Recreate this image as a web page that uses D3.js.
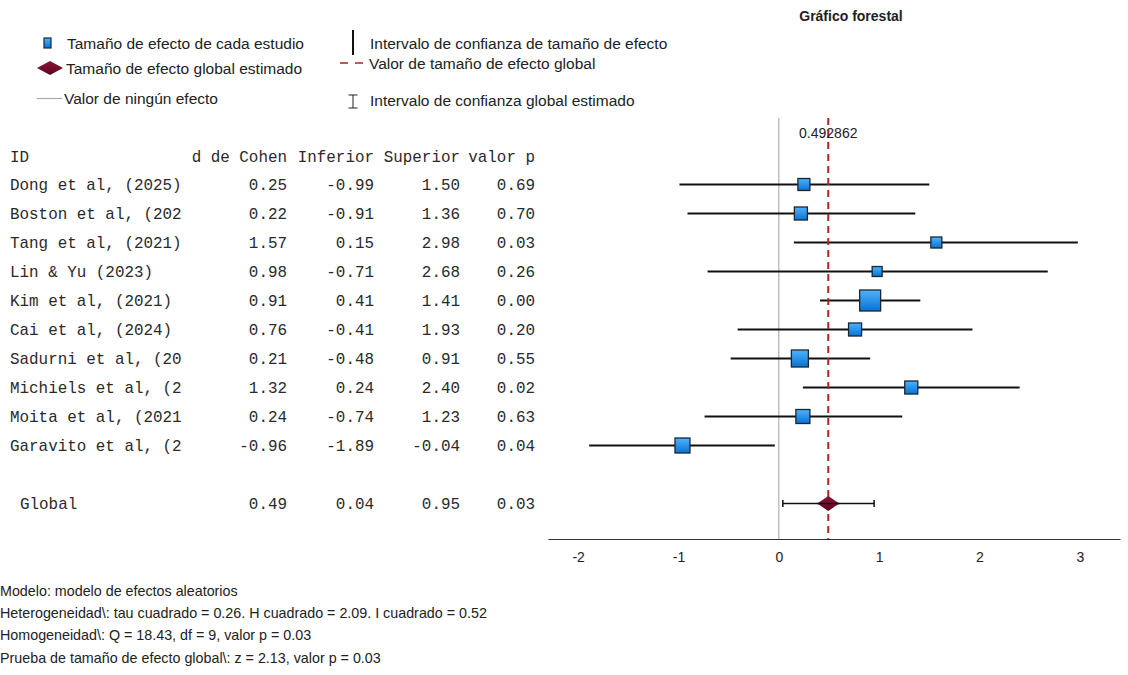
<!DOCTYPE html>
<html lang="es">
<head>
    <meta charset="UTF-8">
    <title>Gráfico forestal</title>
    <script src="https://d3js.org/d3.v7.min.js"></script>
    <style>
        body { margin: 0; background: #fff; }
        svg { display: block; }
        .sans { font-family: "Liberation Sans", Arial, sans-serif; fill: #222; }
        .mono { font-family: "Liberation Mono", "Courier New", monospace; font-size: 15.9px; fill: #2a2a2a; }
    </style>
</head>
<body>
<svg id="chart" width="1128" height="675"></svg>
<script>
    const studies = ["Dong et al, (2025)", "Boston et al, (202", "Tang et al, (2021)", "Lin & Yu (2023)",
        "Kim et al, (2021)", "Cai et al, (2024)", "Sadurni et al, (20", "Michiels et al, (2",
        "Moita et al, (2021", "Garavito et al, (2"];
    const cohenD = [0.25, 0.22, 1.57, 0.98, 0.91, 0.76, 0.21, 1.32, 0.24, -0.96];
    const lower = [-0.99, -0.91, 0.15, -0.71, 0.41, -0.41, -0.48, 0.24, -0.74, -1.89];
    const upper = [1.50, 1.36, 2.98, 2.68, 1.41, 1.93, 0.91, 2.40, 1.23, -0.04];
    const pValues = [0.69, 0.70, 0.03, 0.26, 0.00, 0.20, 0.55, 0.02, 0.63, 0.04];
    // relative weights
    const weights = [7.1, 8.4, 6.0, 4.9, 21.8, 8.4, 14.3, 8.4, 9.7, 11.1];

    const globalEffect = 0.492862;
    const globalLower = 0.04;
    const globalUpper = 0.95;
    const globalP = 0.03;

    const xTicks = [-2, -1, 0, 1, 2, 3];
    const headers = ["d de Cohen", "Inferior", "Superior", "valor p"];
    const footnotes = [
        "Modelo: modelo de efectos aleatorios",
        "Heterogeneidad\\: tau cuadrado = 0.26. H cuadrado = 2.09. I cuadrado = 0.52",
        "Homogeneidad\\: Q = 18.43, df = 9, valor p = 0.03",
        "Prueba de tamaño de efecto global\\: z = 2.13, valor p = 0.03"
    ];

    const svg = d3.select("#chart");

    const defs = svg.append("defs");
    const grad = defs.append("linearGradient").attr("id", "sq").attr("x1", 0).attr("y1", 0).attr("x2", 0).attr("y2", 1);
    grad.append("stop").attr("offset", "0%").attr("stop-color", "#4db3ff");
    grad.append("stop").attr("offset", "100%").attr("stop-color", "#0a72d1");
    const dgrad = defs.append("linearGradient").attr("id", "dm").attr("x1", 0).attr("y1", 0).attr("x2", 0).attr("y2", 1);
    dgrad.append("stop").attr("offset", "0%").attr("stop-color", "#8a1535");
    dgrad.append("stop").attr("offset", "100%").attr("stop-color", "#5a0620");

    // scales
    const x = d3.scaleLinear().domain([-2.3, 3.4]).range([548, 1120]);
    const y = d3.scaleBand().domain(studies.concat(["", "Global"])).range([170, 518]);
    const yc = d => y(d) + y.bandwidth() / 2;
    const size = d3.scaleSqrt().domain([0, d3.max(weights)]).range([0, 21]);

    const plotTop = 118, axisY = 539;

    // title
    svg.append("text").attr("class", "sans")
        .attr("x", 851).attr("y", 21)
        .attr("text-anchor", "middle")
        .style("font-size", "14px").style("font-weight", "bold")
        .text("Gráfico forestal");

    // legend
    const legend = svg.append("g").attr("class", "sans").style("font-size", "15.5px");
    legend.append("rect").attr("x", 44).attr("y", 38).attr("width", 7).attr("height", 10)
        .attr("fill", "url(#sq)").attr("stroke", "#1b2633").attr("stroke-width", 1.2);
    legend.append("path").attr("d", "M37,68L50,61L63,68L50,75Z").attr("fill", "url(#dm)");
    legend.append("line").attr("x1", 37).attr("x2", 62).attr("y1", 98.5).attr("y2", 98.5)
        .attr("stroke", "#aaa").attr("stroke-width", 1.2);
    legend.append("line").attr("x1", 353).attr("x2", 353).attr("y1", 30).attr("y2", 55)
        .attr("stroke", "#111").attr("stroke-width", 2);
    legend.append("line").attr("x1", 340).attr("x2", 363).attr("y1", 63).attr("y2", 63)
        .attr("stroke", "#b22222").attr("stroke-width", 1.5).attr("stroke-dasharray", "8,7");
    legend.append("path").attr("d", "M348.5,95H357.5M353,95V108M348.5,108H357.5")
        .attr("stroke", "#222").attr("stroke-width", 1).attr("fill", "none");

    const legendText = [
        { x: 67, y: 49, t: "Tamaño de efecto de cada estudio" },
        { x: 66, y: 74, t: "Tamaño de efecto global estimado" },
        { x: 64, y: 104, t: "Valor de ningún efecto" },
        { x: 370, y: 49, t: "Intervalo de confianza de tamaño de efecto" },
        { x: 369, y: 69, t: "Valor de tamaño de efecto global" },
        { x: 370, y: 106, t: "Intervalo de confianza global estimado" }
    ];
    legend.selectAll("text.lg").data(legendText).join("text")
        .attr("class", "lg")
        .attr("x", d => d.x).attr("y", d => d.y)
        .text(d => d.t);

    // table
    const colRight = [287, 374, 460, 535];
    svg.append("text").attr("class", "mono").attr("x", 10).attr("y", 162).text("ID");
    headers.forEach((h, i) => {
        svg.append("text").attr("class", "mono").attr("x", colRight[i]).attr("y", 162)
            .attr("text-anchor", "end").text(h);
    });

    const fmt = d3.format(".2f");
    const fmtN = v => fmt(v).replace("−", "-");
    const rows = svg.append("g");
    studies.forEach((s, i) => {
        const cy = yc(s) + 5;
        rows.append("text").attr("class", "mono").attr("x", 10).attr("y", cy).text(s);
        [cohenD[i], lower[i], upper[i], pValues[i]].forEach((v, j) => {
            rows.append("text").attr("class", "mono").attr("x", colRight[j]).attr("y", cy)
                .attr("text-anchor", "end").text(fmtN(v));
        });
    });
    const gy = yc("Global") + 5;
    rows.append("text").attr("class", "mono").attr("x", 20).attr("y", gy).text("Global");
    [globalEffect, globalLower, globalUpper, globalP].forEach((v, j) => {
        rows.append("text").attr("class", "mono").attr("x", colRight[j]).attr("y", gy)
            .attr("text-anchor", "end").text(fmtN(v));
    });

    // no-effect line
    svg.append("line").attr("x1", x(0)).attr("x2", x(0)).attr("y1", plotTop).attr("y2", axisY)
        .attr("stroke", "#b0b0b0").attr("stroke-width", 1.2);

    // CI lines
    svg.append("g").selectAll("line").data(studies).join("line")
        .attr("x1", (d, i) => x(lower[i])).attr("x2", (d, i) => x(upper[i]))
        .attr("y1", d => yc(d)).attr("y2", d => yc(d))
        .attr("stroke", "#111").attr("stroke-width", 2);

    // global effect dashed line
    svg.append("line").attr("x1", x(globalEffect)).attr("x2", x(globalEffect))
        .attr("y1", plotTop).attr("y2", axisY)
        .attr("stroke", "#b22222").attr("stroke-width", 2).attr("stroke-dasharray", "7,5");
    svg.append("text").attr("class", "sans")
        .attr("x", x(globalEffect)).attr("y", 137.5).attr("text-anchor", "middle")
        .style("font-size", "14px")
        .text(String(globalEffect));

    // squares
    svg.append("g").selectAll("rect").data(studies).join("rect")
        .attr("x", (d, i) => x(cohenD[i]) - size(weights[i]) / 2)
        .attr("y", (d, i) => yc(d) - size(weights[i]) / 2)
        .attr("width", (d, i) => size(weights[i]))
        .attr("height", (d, i) => size(weights[i]))
        .attr("fill", "url(#sq)").attr("stroke", "#1b2633").attr("stroke-width", 1.3);

    // global CI and diamond
    const gcy = yc("Global");
    svg.append("path")
        .attr("d", `M${x(globalLower)},${gcy - 3.5}V${gcy + 3.5}M${x(globalLower)},${gcy}H${x(globalUpper)}M${x(globalUpper)},${gcy - 3.5}V${gcy + 3.5}`)
        .attr("stroke", "#111").attr("stroke-width", 1.5).attr("fill", "none");
    const gx = x(globalEffect);
    svg.append("path")
        .attr("d", `M${gx - 11},${gcy}L${gx},${gcy - 7.5}L${gx + 11},${gcy}L${gx},${gcy + 7.5}Z`)
        .attr("fill", "url(#dm)");
    svg.append("line").attr("x1", gx - 11).attr("x2", gx + 11).attr("y1", gcy).attr("y2", gcy)
        .attr("stroke", "#111").attr("stroke-width", 1.5);

    // axis
    const axis = svg.append("g").attr("transform", `translate(0,${axisY})`)
        .call(d3.axisBottom(x).tickValues(xTicks).tickSize(0).tickPadding(13).tickFormat(d3.format("d")));
    axis.select(".domain").attr("stroke", "#333").attr("stroke-width", 1.2);
    axis.selectAll("text")
        .style("font-size", "14px").style("fill", "#222")
        .style("font-family", "'Liberation Sans', Arial, sans-serif")
        .text(d => String(d));

    // footnotes
    svg.append("g").attr("class", "sans").style("font-size", "14.3px")
        .selectAll("text").data(footnotes).join("text")
        .attr("x", 0).attr("y", (d, i) => [596, 618, 640, 663][i])
        .text(d => d);
</script>
</body>
</html>
